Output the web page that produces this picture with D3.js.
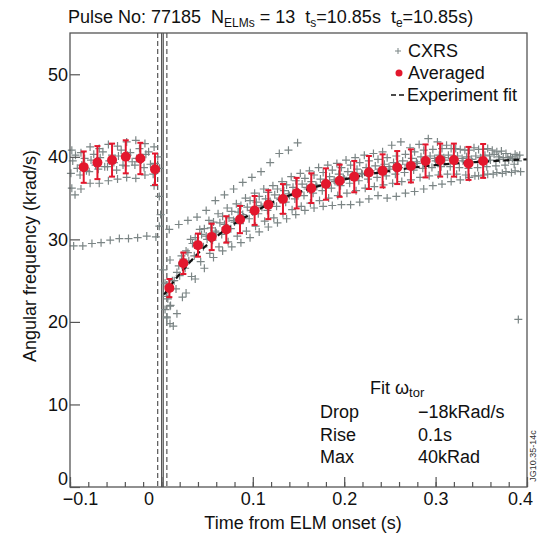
<!DOCTYPE html>
<html>
<head>
<meta charset="utf-8">
<script src="https://cdn.jsdelivr.net/npm/d3@7"></script>
<style>
  body { margin: 0; background: #fff; }
  svg { font-family: "Liberation Sans", Arial, sans-serif; }
</style>
</head>
<body>
<div id="chart"></div>
<script>
/* global d3 */

// averaged points (red) with error bars
var avgT = [-0.085, -0.070, -0.054, -0.039, -0.023, -0.007, 0.0087, 0.024, 0.040, 0.055, 0.071, 0.086, 0.102, 0.117, 0.133, 0.148, 0.164, 0.180, 0.195, 0.211, 0.227, 0.242, 0.258, 0.273, 0.289, 0.305, 0.320, 0.336, 0.352];
var avgY = [38.75, 39.3, 39.6, 40.0, 39.8, 38.5, 24.1, 27.1, 29.3, 30.3, 31.2, 32.4, 33.5, 34.2, 34.9, 35.6, 36.2, 36.7, 37.1, 37.6, 38.1, 38.3, 38.7, 38.9, 39.5, 39.6, 39.6, 39.2, 39.5];
var avgErr = [1.9, 2.0, 2.0, 2.0, 1.9, 1.9, 1.1, 1.3, 1.4, 1.6, 1.6, 1.65, 1.75, 1.75, 1.8, 1.85, 1.8, 1.9, 1.95, 1.9, 2.0, 2.0, 2.0, 2.0, 2.0, 2.0, 2.0, 2.0, 2.05];

// experiment fit
var fitT = [0.003, 0.01, 0.02, 0.03, 0.04, 0.06, 0.08, 0.10, 0.12, 0.15, 0.18, 0.21, 0.25, 0.30, 0.35, 0.40];
var fitY = [23.3, 24.4, 25.8, 27.1, 28.3, 30.3, 31.9, 33.2, 34.4, 35.7, 36.7, 37.5, 38.3, 39.0, 39.4, 39.7];

// CXRS tracks, one sample every 10 ms from t0
var cxrsStep = 0.01;
var cxrsTracks = [
  {t0: -0.098, y: [40.8, 40.5, 41.2, 41.0, 41.5, 41.3, 41.8, 42.0, 41.6, 41.2]},
  {t0: -0.094, y: [40.2, 39.8, 40.3, 40.6, 40.2, 40.8, 40.5, 41.0, 40.6, 40.0]},
  {t0: -0.097, y: [39.5, 39.0, 39.6, 39.9, 39.5, 40.1, 40.2, 39.8, 40.3, 39.2]},
  {t0: -0.092, y: [38.6, 38.3, 39.0, 38.8, 39.3, 39.0, 39.4, 39.6, 39.1, 38.6]},
  {t0: -0.099, y: [38.0, 37.8, 38.2, 38.5, 38.8, 38.4, 38.9, 39.0, 38.7, 37.9]},
  {t0: -0.098, y: [36.2, 36.1, 36.8, 36.8, 37.1, 37.3, 37.5, 37.4, 37.8, 36.5]},
  {t0: -0.096, y: [29.2, 29.2, 29.5, 29.6, 29.9, 30.1, 30.1, 30.2, 30.4, 30.3]},
  {t0: 0.012, y: [25.0, 28.0, 30.0, 31.2, 32.3, 33.1, 33.8, 34.3, 35.0, 35.6, 36.1, 36.5, 37.0, 37.6, 38.0, 38.3, 38.7, 39.0, 39.2, 39.6, 39.9, 40.2, 40.4, 40.6, 41.4, 41.8, 41.1, 41.5, 42.2, 41.8, 41.4, 41.0, 40.8, 41.1, 40.9, 40.8, 40.7, 40.0, 40.2]},
  {t0: 0.007, y: [22.8, 26.0, 28.6, 30.2, 31.3, 32.1, 32.8, 33.4, 34.1, 34.7, 35.2, 35.7, 36.1, 36.6, 37.1, 37.4, 37.8, 38.1, 38.4, 38.7, 39.0, 39.3, 39.5, 39.7, 39.9, 40.1, 40.3, 40.6, 40.8, 40.9, 41.0, 41.0, 40.9, 40.8, 40.9, 41.0, 40.6, 40.4, 40.3]},
  {t0: 0.004, y: [21.5, 25.0, 27.6, 29.5, 30.6, 31.4, 32.0, 32.6, 33.3, 33.9, 34.5, 34.9, 35.4, 35.9, 36.3, 36.7, 37.0, 37.3, 37.6, 37.9, 38.2, 38.5, 38.7, 38.9, 39.1, 39.3, 39.5, 39.8, 40.0, 40.1, 40.2, 40.2, 40.1, 40.0, 40.1, 40.2, 40.3, 39.9, 39.8]},
  {t0: 0.009, y: [23.8, 26.8, 28.4, 29.6, 30.4, 31.0, 31.8, 32.3, 33.0, 33.5, 34.1, 34.6, 35.0, 35.5, 35.8, 36.3, 36.6, 36.9, 37.2, 37.5, 37.8, 38.0, 38.3, 38.5, 38.8, 39.0, 39.1, 39.4, 39.6, 39.8, 39.9, 39.8, 39.8, 39.7, 39.9, 40.1, 40.0, 39.9, 40.1]},
  {t0: 0.010, y: [22.0, 25.6, 27.4, 28.9, 30.0, 30.8, 31.4, 32.1, 32.7, 33.3, 33.9, 34.3, 34.8, 35.3, 35.7, 36.1, 36.4, 36.7, 37.0, 37.3, 37.6, 37.9, 38.1, 38.3, 38.5, 38.7, 38.9, 39.2, 39.4, 39.5, 39.6, 39.6, 39.5, 39.4, 39.5, 39.6, 39.7, 39.6, 39.5]},
  {t0: 0.006, y: [20.5, 24.0, 26.5, 28.0, 29.1, 29.9, 30.6, 31.3, 31.9, 32.5, 33.1, 33.5, 34.0, 34.5, 34.9, 35.3, 35.6, 35.9, 36.2, 36.5, 36.8, 37.1, 37.3, 37.5, 37.7, 37.9, 38.1, 38.4, 38.6, 38.7, 38.8, 38.8, 38.7, 38.6, 38.7, 38.8, 38.9, 39.0, 39.1]},
  {t0: 0.013, y: [19.5, 23.0, 25.5, 27.3, 28.3, 29.1, 29.7, 30.4, 31.0, 31.6, 32.2, 32.6, 33.1, 33.6, 34.0, 34.4, 34.7, 35.0, 35.3, 35.6, 35.9, 36.2, 36.4, 36.6, 36.8, 37.0, 37.2, 37.5, 37.7, 37.8, 37.9, 37.9, 37.8, 37.7, 37.8, 37.9, 38.0, 38.1, 38.2]},
  {t0: 0.017, y: [21.0, 23.5, 25.2, 26.5, 27.8, 28.6, 29.1, 29.6, 30.2, 30.9, 31.5, 32.0, 32.5, 33.0, 33.5, 33.8, 34.0, 34.1, 34.2, 34.2, 34.5, 34.9, 35.3, 35.0, 35.2, 35.6, 35.8, 36.1, 36.5, 36.7, 37.0, 37.2, 37.5, 37.7, 37.9, 38.1, 38.2, 38.3]},
  {t0: 0.019, y: [31.8, 32.3, 32.7, 33.5, 34.7, 35.4, 36.1, 36.9, 37.5, 38.2, 39.3, 40.4, 40.8, 41.7]}
];
// odd CXRS points around the ELM and the late outlier
var cxrsExtra = [[-0.0945, 35.4], [-0.0023, 35.2], [-0.0008, 33.0], [-0.0023, 31.6], [0.0086, 31.2],
  [0.002, 26.3], [0.0094, 27.5], [0.004, 24.7], [0.0058, 23.1], [0.0094, 21.9], [0.0058, 20.6],
  [0.0094, 19.8], [0.3905, 20.3]];

// ELM markers
var elmSolid = [0.0003, 0.002];
var elmDashed = [-0.004, 0.006];

var xTicks = [-0.1, 0, 0.1, 0.2, 0.3, 0.4];
var yTicks = [0, 10, 20, 30, 40, 50];

var fitLabels = ["Drop", "Rise", "Max"];
var fitValues = ["\u221218kRad/s", "0.1s", "40kRad"];

var width = 538, height = 535;
var mLeft = 70, mRight = 527, mTop = 33, mBottom = 487;
var grey = "#7b8585", red = "#e3172d", axisCol = "#555";
var fs = 18;

var svg = d3.select("#chart").append("svg")
    .attr("width", width)
    .attr("height", height);

var x = d3.scaleLinear().domain([-0.1, 0.4]).range([mLeft, mRight]);
var y = d3.scaleLinear().domain([0, 55]).range([mBottom, mTop]);

// title
var sp = "\u00a0";
var title = svg.append("text")
    .attr("x", 68)
    .attr("y", 23)
    .attr("font-size", fs)
    .attr("fill", "#111");
title.append("tspan").text("Pulse No: 77185 " + sp + "N");
title.append("tspan").attr("font-size", 12).attr("dy", 4).text("ELMs");
title.append("tspan").attr("dy", -4).text(" = 13 " + sp + "t");
title.append("tspan").attr("font-size", 12).attr("dy", 4).text("s");
title.append("tspan").attr("dy", -4).text("=10.85s " + sp + "t");
title.append("tspan").attr("font-size", 12).attr("dy", 4).text("e");
title.append("tspan").attr("dy", -4).text("=10.85s)");

// ELM lines
var g = svg.append("g");
g.selectAll(".elmSolid")
    .data(elmSolid)
    .enter().append("line")
    .attr("x1", d => x(d)).attr("x2", d => x(d))
    .attr("y1", mTop).attr("y2", mBottom)
    .attr("stroke", "#333").attr("stroke-width", 1);
g.selectAll(".elmDashed")
    .data(elmDashed)
    .enter().append("line")
    .attr("x1", d => x(d)).attr("x2", d => x(d))
    .attr("y1", mTop).attr("y2", mBottom)
    .attr("stroke", "#333").attr("stroke-width", 1)
    .attr("stroke-dasharray", "5,3");

// CXRS crosses
var cxrsPts = [];
cxrsTracks.forEach(function (tr) {
    tr.y.forEach(function (v, i) {
        cxrsPts.push([tr.t0 + i * cxrsStep, v]);
    });
});
cxrsExtra.forEach(function (p) { cxrsPts.push(p); });

var cross = "M-4,0H4M0,-4V4";
g.append("g")
    .selectAll("path")
    .data(cxrsPts)
    .enter().append("path")
    .attr("d", cross)
    .attr("transform", d => "translate(" + x(d[0]) + "," + y(d[1]) + ")")
    .attr("stroke", grey)
    .attr("stroke-width", 1.2)
    .attr("fill", "none");

// fit curve
var fitData = fitT.map((t, i) => [t, fitY[i]]);
g.append("path")
    .datum(fitData)
    .attr("d", d3.line().x(d => x(d[0])).y(d => y(d[1])).curve(d3.curveMonotoneX))
    .attr("fill", "none")
    .attr("stroke", "#111")
    .attr("stroke-width", 2.2)
    .attr("stroke-dasharray", "6,4");

// averaged points
var avg = avgT.map((t, i) => ({t: t, v: avgY[i], e: avgErr[i]}));
var bars = g.append("g").selectAll("g")
    .data(avg)
    .enter().append("g")
    .attr("stroke", red)
    .attr("stroke-width", 2);
bars.append("line")
    .attr("x1", d => x(d.t)).attr("x2", d => x(d.t))
    .attr("y1", d => y(d.v - d.e)).attr("y2", d => y(d.v + d.e));
bars.append("line")
    .attr("x1", d => x(d.t) - 3).attr("x2", d => x(d.t) + 3)
    .attr("y1", d => y(d.v - d.e)).attr("y2", d => y(d.v - d.e));
bars.append("line")
    .attr("x1", d => x(d.t) - 3).attr("x2", d => x(d.t) + 3)
    .attr("y1", d => y(d.v + d.e)).attr("y2", d => y(d.v + d.e));
g.append("g").selectAll("circle")
    .data(avg)
    .enter().append("circle")
    .attr("cx", d => x(d.t))
    .attr("cy", d => y(d.v))
    .attr("r", 5)
    .attr("fill", red);

// frame
svg.append("rect")
    .attr("x", mLeft).attr("y", mTop)
    .attr("width", mRight - mLeft).attr("height", mBottom - mTop)
    .attr("fill", "none")
    .attr("stroke", axisCol)
    .attr("stroke-width", 1.3);

// x axis, ticks pointing inward
var xAxis = svg.append("g")
    .attr("transform", "translate(0," + mBottom + ")")
    .call(d3.axisBottom(x).tickValues(d3.range(-0.1, 0.4001, 0.02)).tickSize(-5).tickFormat(""));
xAxis.select(".domain").remove();
xAxis.selectAll("line").attr("stroke", axisCol).attr("stroke-width", 1.2);

// label nudges as placed in the original figure
var xLabelShift = {"-0.1": 10, "0": -13, "0.4": -7};
var xMajor = svg.append("g")
    .attr("transform", "translate(0," + mBottom + ")")
    .call(d3.axisBottom(x).tickValues(xTicks).tickSize(-10).tickPadding(5)
        .tickFormat(d => d === 0 ? "0" : d3.format(".1f")(d)));
xMajor.select(".domain").remove();
xMajor.selectAll("line").attr("stroke", axisCol).attr("stroke-width", 1.2);
xMajor.selectAll("text").attr("font-size", fs).attr("fill", "#111")
    .attr("font-family", "Liberation Sans, Arial, sans-serif")
    .attr("dx", d => xLabelShift[String(d)] || 0);

var yAxis = svg.append("g")
    .attr("transform", "translate(" + mLeft + ",0)")
    .call(d3.axisLeft(y).tickValues(yTicks).tickSize(-10).tickPadding(2));
yAxis.select(".domain").remove();
yAxis.selectAll("line").attr("stroke", axisCol).attr("stroke-width", 1.2);
yAxis.selectAll("text").attr("font-size", fs).attr("fill", "#111")
    .attr("font-family", "Liberation Sans, Arial, sans-serif")
    .attr("y", d => d === 0 ? -8 : 0);

// axis titles
svg.append("text")
    .attr("x", 303).attr("y", 529)
    .attr("text-anchor", "middle")
    .attr("font-size", fs)
    .attr("fill", "#111")
    .text("Time from ELM onset (s)");
svg.append("text")
    .attr("transform", "translate(36,256) rotate(-90)")
    .attr("text-anchor", "middle")
    .attr("font-size", fs)
    .attr("fill", "#111")
    .text("Angular frequency (krad/s)");

// legend
var leg = svg.append("g").attr("font-size", fs).attr("fill", "#111");
leg.append("path").attr("d", "M-3,0H3M0,-3V3")
    .attr("transform", "translate(398,51)")
    .attr("stroke", grey).attr("stroke-width", 1);
leg.append("text").attr("x", 408).attr("y", 57).text("CXRS");
leg.append("circle").attr("cx", 399).attr("cy", 73).attr("r", 3.5).attr("fill", red);
leg.append("text").attr("x", 408).attr("y", 79).text("Averaged");
leg.append("line").attr("x1", 391).attr("x2", 406).attr("y1", 95).attr("y2", 95)
    .attr("stroke", "#111").attr("stroke-width", 1.3).attr("stroke-dasharray", "5,3");
leg.append("text").attr("x", 407).attr("y", 101).text("Experiment fit");

// fit parameters box
var fit = svg.append("g").attr("font-size", fs).attr("fill", "#111");
var fitTitle = fit.append("text").attr("x", 370).attr("y", 394);
fitTitle.append("tspan").text("Fit \u03c9");
fitTitle.append("tspan").attr("font-size", 13).attr("dy", 3).text("tor");
fit.selectAll(".lab")
    .data(fitLabels)
    .enter().append("text")
    .attr("x", 320)
    .attr("y", (d, i) => 418 + i * 22.5)
    .text(d => d);
fit.selectAll(".val")
    .data(fitValues)
    .enter().append("text")
    .attr("x", 418)
    .attr("y", (d, i) => 418 + i * 22.5)
    .text(d => d);

// figure id
svg.append("text")
    .attr("transform", "translate(536,456) rotate(-90)")
    .attr("text-anchor", "middle")
    .attr("font-size", 9)
    .attr("fill", "#333")
    .text("JG10.35-14c");
</script>
</body>
</html>
